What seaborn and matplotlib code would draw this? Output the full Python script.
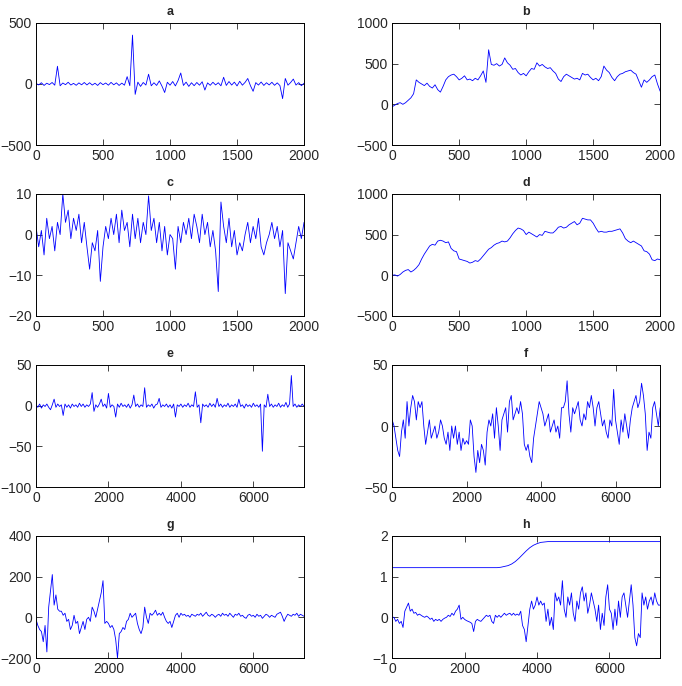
import numpy as np
import pandas as pd
import seaborn as sns
import matplotlib
matplotlib.use("Agg")
import matplotlib.pyplot as plt

# sample spacing of each recorded series
step_a = 20
step_e = 50

a_vals = [5, -8, 10, -12, 6, -5, 12, -10, 145, -15, 8, -6, 14, -9, 5, -11, 9, -7, 12, -8,
          10, -9, 6, -12, 11, -6, 8, -10, 13, -7, 9, -12, 7, -10, 60, -14, 400, -85, 15, -20,
          12, -9, 80, -15, 10, -12, 25, -18, -70, 14, -10, 20, -16, 28, 90, -12, 15, -20, 10, -14,
          12, -10, 18, -50, 9, -11, 14, -8, 10, -15, 55, -12, 20, -9, 15, -16, 22, -10, 13, 45,
          -14, -60, 11, -9, 16, -12, 10, -8, 14, -11, 9, -13, -120, 45, -10, 12, 40, -9, 11, -14,
          6]

b_vals = [-30, -10, 10, 20, 0, 20, 50, 80, 130, 300, 270, 250, 230, 260, 220, 200, 240, 180, 150, 220,
          300, 340, 360, 370, 340, 300, 320, 350, 300, 310, 290, 320, 300, 350, 410, 270, 670, 490, 480, 500,
          470, 490, 570, 510, 480, 430, 440, 390, 360, 380, 350, 400, 440, 430, 510, 470, 490, 460, 440, 450,
          410, 380, 310, 280, 340, 370, 350, 330, 310, 320, 300, 380, 360, 370, 330, 300, 320, 290, 340, 470,
          420, 390, 330, 290, 340, 370, 380, 400, 410, 420, 390, 370, 290, 210, 300, 270, 300, 340, 360, 250,
          160]

c_vals = [2, -3, 1, -5, 4, -1, 2, -4, 3, 0, 10, 3, 6, -1, 4, 1, 5, -2, 3, -3,
          -8.5, -2, -4, 1, -11.5, -3, 2, -1, 4, 0, 5, -2, 6, 1, 3, -3, 5, -1, 4, -2,
          3, 0, 9.5, 1, 4, -2, 3, -4, 2, -5, 0, -1, -8.5, 2, -2, 3, 0, 4, -1, 5,
          2, -2, 5, 0, 3, -3, 1, -4, -14, 8, 2, -2, 4, -3, 1, -5, -2, -4, 0, 3,
          -2, 2, -1, 4, -3, -5, -2, 0, 3, -1, 2, -3, 1, -14.5, -2, -4, -6, -2, 2, -1,
          3]

d_vals = [0, 5, -10, 10, 40, 60, 70, 40, 60, 90, 130, 200, 260, 310, 360, 380, 370, 420, 430, 420,
          400, 410, 330, 300, 290, 200, 190, 180, 170, 150, 160, 180, 170, 200, 240, 280, 320, 340, 370, 390,
          400, 420, 410, 420, 460, 510, 550, 580, 570, 550, 500, 530, 510, 490, 470, 500, 490, 540, 530, 520,
          520, 550, 590, 600, 580, 590, 620, 640, 660, 620, 640, 700, 690, 680, 680, 640, 580, 530, 540, 530,
          530, 540, 540, 550, 560, 570, 520, 450, 420, 400, 420, 400, 380, 360, 300, 290, 260, 190, 180, 200,
          190]

e_vals = [1, -2, 2, -3, 1, -1, 2, -2, -5, 1,
          8, -2, 2, -1, 1, -12, 2, -2, 1, -3,
          2, -1, 1, -2, 3, -1, 2, -2, 1, -1,
          2, 16, -7, 1, -2, 2, 8, -1, 2, -3,
          15, -2, 1, -1, -14, 2, -2, 3, -1, 1,
          -2, 2, -3, 1, 13, -1, 2, -2, 1, -1,
          22, -2, 1, -1, 2, -3, 1, 2, 9, -2,
          1, -1, 2, -2, 1, -3, 2, -14, 1, -1,
          2, -2, 1, -1, 3, -2, 1, -1, 17, -2,
          1, -21, 2, -1, 1, -2, 3, -1, 2, -2,
          9, -1, 2, -2, 1, -1, 3, -2, 1, -1,
          2, -2, 8, -1, 1, -3, 2, -1, 1, -2,
          3, -1, 1, -2, 2, -56, 1, -2, 14, -1,
          2, -2, 1, -1, 3, -2, 1, -1, 4, -2,
          2, 37, -1, 2, -2, 1, -1, 2, -1]

f_vals = [5, 0, -10, -20, -25, -5, 5, -10, 20, 0,
          15, 25, 20, 5, 20, 15, 20, 0, -15, -5,
          5, -10, -5, 0, -10, -5, 5, 0, -10, -15,
          -5, -20, 0, -10, 0, -15, -5, -20, -10, -15,
          -12, -15, 5, 0, -25, -38, -20, -30, -15, -20,
          -32, -5, 5, 0, 10, -10, 15, 0, -20, 5,
          10, 15, -5, 20, 25, 5, 10, 15, 10, 20,
          10, -15, -20, -15, -25, -30, -10, 0, 10, 20,
          15, 10, 0, 5, 10, -5, 0, 5, -5, 0,
          -10, 15, 15, 20, 37, 10, -5, 15, 10, 15,
          20, 5, 0, 10, 5, 20, 15, 25, 15, 0,
          15, 20, 10, 0, 5, -5, -10, 5, 0, 30,
          5, -5, -15, 5, -5, 10, 0, -10, 5, 15,
          20, 25, 15, 20, 35, 25, 10, -20, -5, -10,
          15, 20, 10, 0, 15]

g_vals = [-10, -40, -60, -70, -120, -40, -170, 50, 130, 210,
          60, 110, 40, 30, 30, 10, 20, -20, -10, -60,
          -40, 10, -30, -20, -80, -50, -20, -60, -10, 0,
          -20, 50, 30, 0, 40, 80, 120, 180, -30, -20,
          -30, -50, -40, -60, -110, -200, -80, -70, -50, -60,
          -20, -10, 20, 0, 10, 20, -30, -60, -80, -50,
          50, 0, -30, 20, 10, 20, 35, 10, 20, 10,
          25, 0, -20, -30, -20, -50, -20, 10, 20, 0,
          20, 10, 15, 5, 10, 0, 15, 10, 5, 15,
          10, 20, 5, 15, 25, 10, 5, 15, 10, 0,
          10, 15, 5, 20, 10, 15, 5, 20, 10, 0,
          15, 10, 20, 5, 10, 0, -5, 10, 15, 5,
          10, 0, 15, 5, 10, -5, 5, 15, 10, 0,
          10, 5, 0, 15, 20, 25, 5, -20, 0, 15,
          10, 5, 15, 10, 20, 5, 15, 10, 5]

h_noisy = [0.0, 0.0, -0.1, -0.05, -0.15, -0.1, -0.25, 0.15, 0.25, 0.35,
           0.15, 0.2, 0.1, 0.12, 0.05, 0.08, 0.05, 0.02, 0.0, 0.03,
           0.0, -0.05, -0.02, -0.1, -0.05, -0.08, -0.05, -0.1, -0.05, -0.02,
           0.0, 0.05, 0.02, 0.1, 0.05, 0.15, 0.2, 0.3, -0.05, 0.0,
           -0.05, -0.08, -0.1, -0.12, -0.15, -0.35, -0.1, -0.05, -0.08, -0.1,
           -0.05, 0.0, 0.05, 0.02, 0.05, -0.1, -0.15, 0.05, 0.0, 0.05,
           0.0, 0.05, 0.1, 0.05, 0.08, 0.1, 0.05, 0.1, 0.05, 0.08,
           0.05, 0.15, -0.2, -0.3, -0.6, -0.2, 0.2, 0.4, 0.2, 0.3,
           0.5, 0.3, 0.4, 0.3, 0.35, -0.1, 0.2, -0.2, 0.0, -0.3,
           0.6, 0.4, 0.5, 0.3, 0.9, 0.2, 0.0, 0.5, 0.3, 0.6,
           0.1, -0.1, 0.4, 0.2, 0.6, 0.75, 0.4, 0.6, 0.1, 0.3,
           0.6, 0.4, 0.2, -0.1, 0.3, -0.3, 0.1, -0.2, 0.5, 0.8,
           0.2, 0.1, -0.3, 0.2, -0.2, 0.4, 0.0, 0.5, 0.6, 0.3,
           0.0, 0.4, 0.8, 0.3, -0.5, -0.7, -0.4, -0.5, 0.6, 0.3,
           0.5, 0.2, 0.4, 0.5, 0.3, 0.6, 0.4, 0.3, 0.3]

# smooth transition curve in panel h, one value every 100 steps
step_h_smooth = 100
h_smooth = ([1.22] * 29
            + [1.22, 1.23, 1.25, 1.27, 1.31, 1.37, 1.45, 1.54, 1.63, 1.71, 1.77, 1.81, 1.84, 1.85]
            + [1.86] * 32)

panels = [
    ("a", [(a_vals, step_a)], (0, 2000), (-500, 500), [0, 500, 1000, 1500, 2000], [-500, 0, 500]),
    ("b", [(b_vals, step_a)], (0, 2000), (-500, 1000), [0, 500, 1000, 1500, 2000], [-500, 0, 500, 1000]),
    ("c", [(c_vals, step_a)], (0, 2000), (-20, 10), [0, 500, 1000, 1500, 2000], [-20, -10, 0, 10]),
    ("d", [(d_vals, step_a)], (0, 2000), (-500, 1000), [0, 500, 1000, 1500, 2000], [-500, 0, 500, 1000]),
    ("e", [(e_vals, step_e)], (0, 7400), (-100, 50), [0, 2000, 4000, 6000], [-100, -50, 0, 50]),
    ("f", [(f_vals, step_e)], (0, 7200), (-50, 50), [0, 2000, 4000, 6000], [-50, 0, 50]),
    ("g", [(g_vals, step_e)], (0, 7400), (-200, 400), [0, 2000, 4000, 6000], [-200, 0, 200, 400]),
    ("h", [(h_noisy, step_e), (h_smooth, step_h_smooth)], (0, 7400), (-1, 2),
     [0, 2000, 4000, 6000], [-1, 0, 1, 2]),
]

sns.set_style("ticks", {"xtick.direction": "in", "ytick.direction": "in"})
plt.rcParams["font.family"] = ["Liberation Sans", "DejaVu Sans"]
plt.rcParams["axes.unicode_minus"] = True

fig = plt.figure(figsize=(6.82, 6.86), dpi=100)

lefts = [0.0528, 0.575]
bottoms = [0.7886, 0.5394, 0.290, 0.0408]
w, h = 0.393, 0.178

for i, (name, series, xlim, ylim, xt, yt) in enumerate(panels):
    row, col = divmod(i, 2)
    ax = fig.add_axes([lefts[col], bottoms[row], w, h])
    for vals, step in series:
        df = pd.DataFrame({"t": np.arange(len(vals)) * step, "v": vals})
        sns.lineplot(data=df, x="t", y="v", ax=ax, color="blue", linewidth=0.6)
    ax.set_xlim(*xlim)
    ax.set_ylim(*ylim)
    ax.set_xticks(xt)
    ax.set_yticks(yt)
    ax.set_xlabel("")
    ax.set_ylabel("")
    ax.set_title(name, fontsize=9, fontweight="bold", pad=6)
    ax.tick_params(direction="in", top=True, right=True, length=4, width=0.6,
                   labelsize=10, pad=3)
    for sp in ax.spines.values():
        sp.set_visible(True)
        sp.set_linewidth(0.7)
        sp.set_color("black")

fig.savefig("out.png", dpi=100)
